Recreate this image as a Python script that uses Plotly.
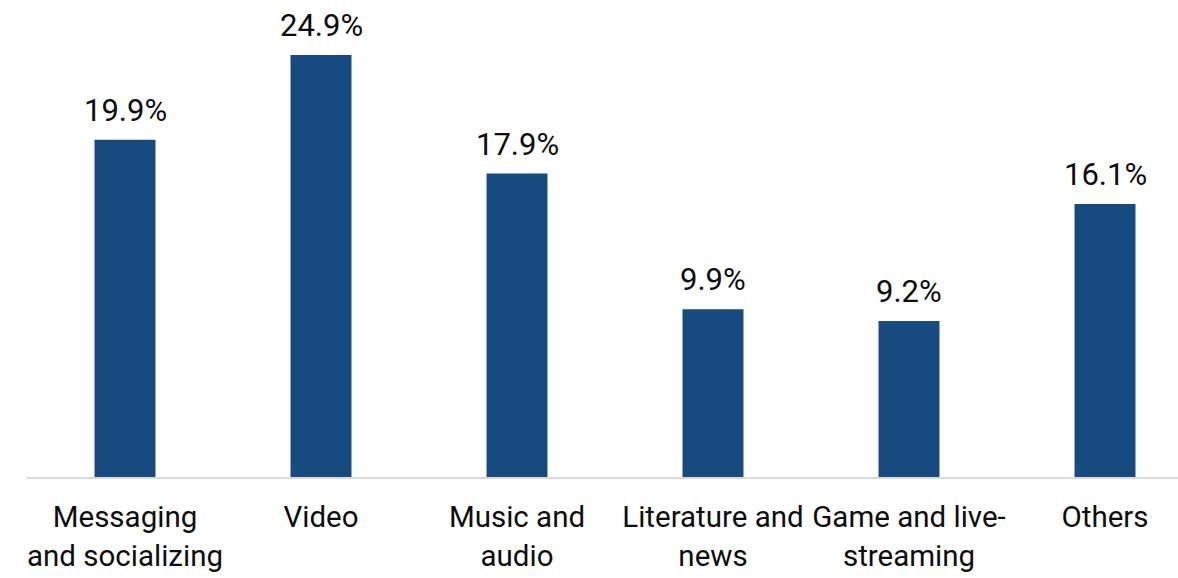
import plotly.graph_objects as go

# Share of time spent by app category
categories = [
    "Messaging<br>and socializing",
    "Video",
    "Music and<br>audio",
    "Literature and<br>news",
    "Game and live-<br>streaming",
    "Others",
]
shares = [19.9, 24.9, 17.9, 9.9, 9.2, 16.1]
value_labels = ["19.9%", "24.9%", "17.9%", "9.9%", "9.2%", "16.1%"]

BAR_COLOR = "#174A7E"
FONT = "Roboto"
TEXT_COLOR = "#0d0d0d"

fig = go.Figure()
fig.add_trace(
    go.Bar(
        x=list(range(len(categories))),
        y=shares,
        width=0.311,
        marker=dict(color=BAR_COLOR, line=dict(width=0)),
        hoverinfo="skip",
    )
)

# Value labels above each bar
for i, (v, lab) in enumerate(zip(shares, value_labels)):
    fig.add_annotation(
        x=i, y=v, text=lab, showarrow=False,
        yanchor="bottom", yshift=9,
        font=dict(family=FONT, size=31, color=TEXT_COLOR),
    )

fig.update_layout(
    width=1178, height=578,
    margin=dict(l=27, r=0, t=0, b=101),
    paper_bgcolor="white", plot_bgcolor="white",
    showlegend=False,
    font=dict(family=FONT, size=29.5, color=TEXT_COLOR),
    xaxis=dict(
        tickmode="array",
        tickvals=list(range(len(categories))),
        ticktext=categories,
        range=[-0.5, -0.5 + 1151 / 196],
        showline=True, linecolor="#D9D9D9", linewidth=2,
        showgrid=False, zeroline=False, ticks="",
        ticklabelstandoff=13,
        tickfont=dict(family=FONT, size=29.5, color=TEXT_COLOR),
    ),
    yaxis=dict(
        range=[0, 477 / 16.95],
        visible=False, showgrid=False, zeroline=False,
    ),
)

fig.write_html("out.html")
